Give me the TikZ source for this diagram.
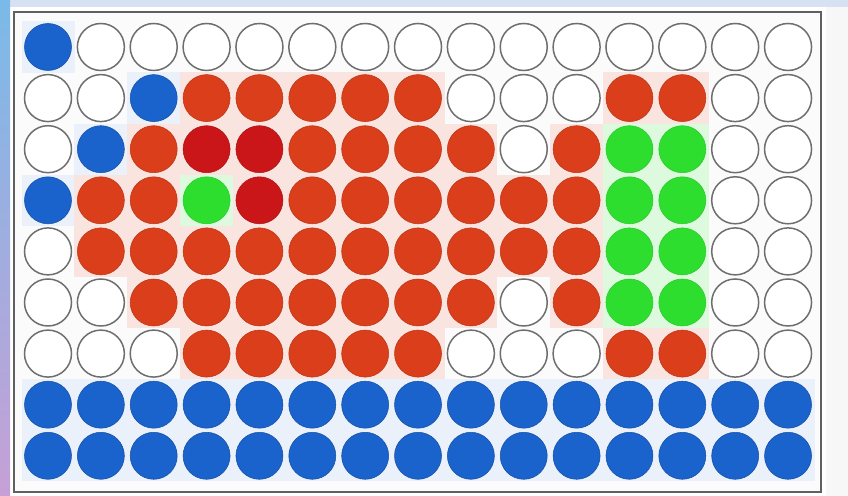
\documentclass[tikz,border=0pt]{standalone}
\usepackage{tikz}
\usetikzlibrary{positioning}
\usepackage{xcolor}

\definecolor{wellblue}{RGB}{26,98,204}
\definecolor{wellred}{RGB}{218,62,26}
\definecolor{welldark}{RGB}{202,22,24}
\definecolor{wellgreen}{RGB}{46,222,46}
\definecolor{rimgray}{RGB}{110,110,110}
\definecolor{edgeblue}{RGB}{122,186,232}
\definecolor{edgeviolet}{RGB}{198,160,214}
\definecolor{edgetop}{RGB}{214,226,244}

\tikzset{
  wellW/.style={fill=white,draw=rimgray,line width=0.85pt},
  wellB/.style={fill=wellblue,draw=wellblue!80!black,line width=0.3pt},
  wellR/.style={fill=wellred,draw=wellred!85!black,line width=0.3pt},
  wellD/.style={fill=welldark,draw=welldark!85!black,line width=0.3pt},
  wellG/.style={fill=wellgreen,draw=wellgreen!90!black,line width=0.3pt},
  glowW/.style={},
  glowB/.style={fill=wellblue!9},
  glowR/.style={fill=wellred!14},
  glowD/.style={fill=wellred!14},
  glowG/.style={fill=wellgreen!16},
}

% one entry per row, top to bottom
\newcommand\platerows{%
  {B,W,W,W,W,W,W,W,W,W,W,W,W,W,W},
  {W,W,B,R,R,R,R,R,W,W,W,R,R,W,W},
  {W,B,R,D,D,R,R,R,R,W,R,G,G,W,W},
  {B,R,R,G,D,R,R,R,R,R,R,G,G,W,W},
  {W,R,R,R,R,R,R,R,R,R,R,G,G,W,W},
  {W,W,R,R,R,R,R,R,R,W,R,G,G,W,W},
  {W,W,W,R,R,R,R,R,W,W,W,R,R,W,W},
  {B,B,B,B,B,B,B,B,B,B,B,B,B,B,B},
  {B,B,B,B,B,B,B,B,B,B,B,B,B,B,B}}

\begin{document}
\begin{tikzpicture}[x=0.02cm,y=0.02cm]
  \useasboundingbox (0,0) rectangle (848,496);
  \fill[white] (0,0) rectangle (848,496);
  \fill[edgetop] (0,489) rectangle (848,496);
  \shade[top color=edgeblue,bottom color=edgeviolet] (0,0) rectangle (10,496);
  \fill[gray!6] (826,0) rectangle (848,489);
  % plate
  \draw[gray!75!black,line width=1.1pt,fill=gray!3] (14,4) rectangle (821,484);
  \foreach \row [count=\j] in \platerows {
    \foreach \k [count=\i] in \row {
      \pgfmathsetmacro\wx{48+52.86*(\i-1)}
      \pgfmathsetmacro\wy{449-51.1*(\j-1)}
      \path[glow\k] (\wx-26.5,\wy-25.6) rectangle ++(53,51.2);
    }
  }
  \foreach \row [count=\j] in \platerows {
    \foreach \k [count=\i] in \row {
      \pgfmathsetmacro\wx{48+52.86*(\i-1)}
      \pgfmathsetmacro\wy{449-51.1*(\j-1)}
      \path[well\k] (\wx,\wy) circle (23.5);
    }
  }
\end{tikzpicture}
\end{document}
